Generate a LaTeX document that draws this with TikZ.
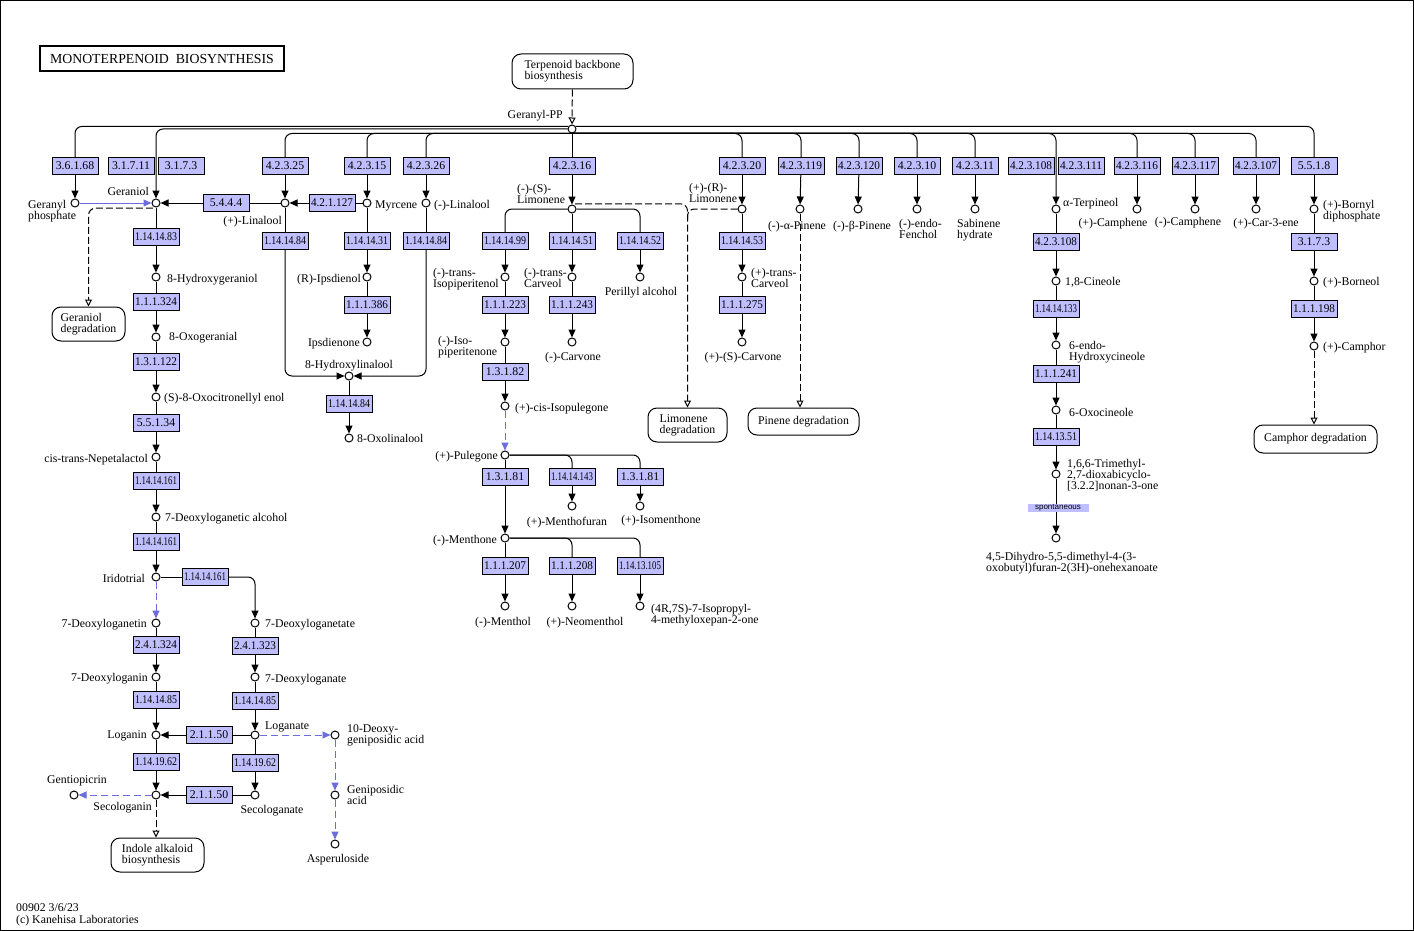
\documentclass[tikz,border=0pt]{standalone}
\usepackage{graphicx}
\usepackage{fontspec}
\setmainfont{Liberation Serif}
\newfontfamily\spfont{Liberation Sans}
\usetikzlibrary{arrows.meta,positioning,calc}
\definecolor{ecfill}{RGB}{191,191,255}
\definecolor{kblue}{RGB}{108,108,218}
\newsavebox\ecbox
% squeeze long EC numbers into the box
\newcommand\ecfit[1]{\sbox\ecbox{#1}\ifdim\wd\ecbox>42pt\resizebox{42pt}{\height}{#1}\else#1\fi}

\begin{document}
\begin{tikzpicture}[x=1pt,y=-1pt]
\tikzset{
  cpd/.style={circle,draw,fill=white,line width=1pt,minimum size=8pt,inner sep=0pt},
  ec/.style={draw,fill=ecfill,line width=0.8pt,minimum width=46pt,minimum height=17pt,inner sep=0pt,font=\fontsize{11.8}{12}\selectfont},
  lbl/.style={inner sep=0pt,font=\fontsize{11.8}{11}\selectfont,text height=8pt,text depth=2pt},
  lbltwo/.style={inner sep=0pt,font=\fontsize{11.8}{11}\selectfont,align=left},
  mapbox/.style={draw,rounded corners=9pt,line width=1pt,inner sep=0pt,align=left,font=\fontsize{11.8}{11}\selectfont},
  rxn/.style={line width=1pt},
  arr/.style={rxn,-{Triangle[width=7pt,length=8pt]}},
  rc/.style={rounded corners=7pt},
  link/.style={line width=1pt,dash pattern=on 7pt off 3pt,-{Triangle[open,width=7pt,length=7pt]}},
  blink/.style={line width=1pt,kblue,dash pattern=on 7pt off 4pt,-{Triangle[width=7pt,length=8pt]}}
}
\useasboundingbox (0,0) rectangle (1414,931);
\draw[line width=1pt] (0.5,0.5) rectangle (1413,930.5);

% title, map links
\node[draw,line width=2pt,minimum width=244pt,minimum height=25pt,inner sep=0pt,font=\fontsize{13.8}{14}\selectfont] (title) at (162,58.5) {MONOTERPENOID\ \ BIOSYNTHESIS};
\node[mapbox,minimum width=121pt,minimum height=35pt] (tbb) at (572.5,71.5) {Terpenoid backbone\\biosynthesis};
\node[mapbox,minimum width=73pt,minimum height=34pt] (gdeg) at (88.5,324) {Geraniol\\degradation};
\node[mapbox,minimum width=79pt,minimum height=34pt] (ldeg) at (687.5,425) {Limonene\\degradation};
\node[mapbox,minimum width=111pt,minimum height=27pt] (pdeg) at (803.5,421.5) {Pinene degradation};
\node[mapbox,minimum width=123pt,minimum height=28pt] (cdeg) at (1315.5,439) {Camphor degradation};
\node[mapbox,minimum width=93pt,minimum height=34pt] (indole) at (157.5,855) {Indole alkaloid\\biosynthesis};

% compounds
\foreach \n/\x/\y in {gpp/572/129, gerp/75/203, geraniol/156/203, plin/285/203, myrc/367/203,
    mlin/426/203, slim/572/209, rlim/742/209, apin/800/209, bpin/858/209, fench/917/209,
    sabin/975/209, aterp/1056/209, pcamph/1137/209, mcamph/1195/209, car/1256/209, bornyl/1314/209,
    hgeran/156/277, oxogeran/156/337, oxocit/156/397, nepet/156/457, dlalc/156/517, irido/156/577,
    dlgetin/156/623, dlgate/255/623, dlgin/156/677, dlgnate/255/677, loganin/156/735, loganate/255/735,
    secolin/156/795, secolate/255/795, gentio/74/795, deoxgen/335/735, genip/335/795, asper/335/844,
    ipsdienol/367/277, ipsdienone/367/342, hlin/349/376, olin/349/438,
    tisopip/505/277, tcarv/572/277, peril/640/277, isopipone/505/342, carvone/572/342,
    cisiso/505/406, puleg/505/455, menthofuran/572/506, isomenth/640/506, menthone/505/538,
    menthol/505/606, neomenth/572/606, oxepan/640/606, ptcarv/742/277, scarv/742/342,
    cineole/1056/281, hcineole/1056/345, oxocineole/1056/410, trimeth/1056/474, dihydro/1056/538,
    borneol/1314/281, camphor/1314/346}
  \node[cpd] (\n) at (\x,\y) {};

% enzymes
\foreach \n/\x/\y/\lab in {e1/75/166/3.6.1.68, e2/131/166/3.1.7.11, e3/181/166/3.1.7.3,
    e4/285/166/4.2.3.25, e5/367/166/4.2.3.15, e6/426/166/4.2.3.26, e7/572/166/4.2.3.16,
    e8/742/166/4.2.3.20, e9/801/166/4.2.3.119, e10/859/166/4.2.3.120, e11/917/166/4.2.3.10,
    e12/975/166/4.2.3.11, e13/1031/166/4.2.3.108, e14/1081/166/4.2.3.111, e15/1137/166/4.2.3.116,
    e16/1195/166/4.2.3.117, e17/1256/166/4.2.3.107, e18/1314/166/5.5.1.8,
    e19/226/203/5.4.4.4, e20/332/203/4.2.1.127,
    e21/156/237/1.14.14.83, e22/156/302/1.1.1.324, e23/156/362/1.3.1.122, e24/156/423/5.5.1.34,
    e25/156/481/1.14.14.161, e26/156/542/1.14.14.161, e27/205/577/1.14.14.161,
    e28/156/645/2.4.1.324, e29/255/646/2.4.1.323, e30/156/700/1.14.14.85, e31/255/701/1.14.14.85,
    e32/209/735/2.1.1.50, e33/156/762/1.14.19.62, e34/255/763/1.14.19.62, e35/209/795/2.1.1.50,
    e36/285/241/1.14.14.84, e37/367/241/1.14.14.31, e38/426/241/1.14.14.84, e39/367/305/1.1.1.386,
    e40/349/404/1.14.14.84,
    e41/505/241/1.14.14.99, e42/572/241/1.14.14.51, e43/640/241/1.14.14.52, e44/505/305/1.1.1.223,
    e45/572/305/1.1.1.243, e46/505/372/1.3.1.82, e47/505/477/1.3.1.81, e48/572/477/1.14.14.143,
    e49/640/477/1.3.1.81, e50/505/566/1.1.1.207, e51/572/566/1.1.1.208, e52/640/566/1.14.13.105,
    e53/742/241/1.14.14.53, e54/742/305/1.1.1.275,
    e55/1056/242/4.2.3.108, e56/1056/309/1.14.14.133, e57/1056/374/1.1.1.241, e58/1056/437/1.14.13.51,
    e59/1314/242/3.1.7.3, e60/1314/309/1.1.1.198}
  \node[ec] (\n) at (\x,\y) {\ecfit{\lab}};
\node[fill=ecfill,minimum width=61pt,minimum height=8pt,inner sep=0pt,font=\spfont\fontsize{8}{8}\selectfont] (spont) at (1058,508) {spontaneous};

% compound names
\node[lbl,anchor=east] (l-gpp) at (563,116) {Geranyl-PP};
\node[lbltwo,anchor=north west] (l-gerp) at (28,200.3) {Geranyl\\phosphate};
\node[lbl,anchor=east] (l-geraniol) at (149,192) {Geraniol};
\node[lbl,anchor=east] (l-plin) at (282,221) {(+)-Linalool};
\node[lbl,anchor=west] (l-myrc) at (375,205) {Myrcene};
\node[lbl,anchor=west] (l-mlin) at (434,205) {(-)-Linalool};
\node[lbltwo,anchor=north west] (l-slim) at (517,184.3) {(-)-(S)-\\Limonene};
\node[lbltwo,anchor=north west] (l-rlim) at (689,183.3) {(+)-(R)-\\Limonene};
\node[lbl] (l-apin) at (797,226) {(-)-α-Pinene};
\node[lbl] (l-bpin) at (862,226) {(-)-β-Pinene};
\node[lbltwo,anchor=north west] (l-fench) at (899,219.3) {(-)-endo-\\Fenchol};
\node[lbltwo,anchor=north west] (l-sabin) at (957,219.3) {Sabinene\\hydrate};
\node[lbl,anchor=west] (l-aterp) at (1063,203) {α-Terpineol};
\node[lbl] (l-pcamph) at (1113,223) {(+)-Camphene};
\node[lbl] (l-mcamph) at (1188,222) {(-)-Camphene};
\node[lbl] (l-car) at (1266,223) {(+)-Car-3-ene};
\node[lbltwo,anchor=north west] (l-bornyl) at (1323,200.3) {(+)-Bornyl\\diphosphate};
\node[lbl,anchor=west] (l-hgeran) at (167,279) {8-Hydroxygeraniol};
\node[lbl,anchor=west] (l-oxogeran) at (169,337) {8-Oxogeranial};
\node[lbl,anchor=west] (l-oxocit) at (164,398) {(S)-8-Oxocitronellyl enol};
\node[lbl,anchor=east] (l-nepet) at (148,459) {cis-trans-Nepetalactol};
\node[lbl,anchor=west] (l-dlalc) at (165,518) {7-Deoxyloganetic alcohol};
\node[lbl,anchor=east] (l-irido) at (145,579) {Iridotrial};
\node[lbl,anchor=east] (l-dlgetin) at (147,624) {7-Deoxyloganetin};
\node[lbl,anchor=west] (l-dlgate) at (265,624) {7-Deoxyloganetate};
\node[lbl,anchor=east] (l-dlgin) at (148,678) {7-Deoxyloganin};
\node[lbl,anchor=west] (l-dlgnate) at (265,679) {7-Deoxyloganate};
\node[lbl,anchor=east] (l-loganin) at (147,735) {Loganin};
\node[lbl,anchor=west] (l-loganate) at (265,726) {Loganate};
\node[lbltwo,anchor=north west] (l-deoxgen) at (347,724.3) {10-Deoxy-\\geniposidic acid};
\node[lbl] (l-gentio) at (77,780) {Gentiopicrin};
\node[lbl,anchor=east] (l-secolin) at (152,807) {Secologanin};
\node[lbl] (l-secolate) at (272,810) {Secologanate};
\node[lbltwo,anchor=north west] (l-genip) at (347,785.3) {Geniposidic\\acid};
\node[lbl] (l-asper) at (338,859) {Asperuloside};
\node[lbl,anchor=east] (l-ipsdienol) at (361,279) {(R)-Ipsdienol};
\node[lbl,anchor=east] (l-ipsdienone) at (360,343) {Ipsdienone};
\node[lbl] (l-hlin) at (349,365) {8-Hydroxylinalool};
\node[lbl,anchor=west] (l-olin) at (357,439) {8-Oxolinalool};
\node[lbltwo,anchor=north west] (l-tisopip) at (433,268.3) {(-)-trans-\\Isopiperitenol};
\node[lbltwo,anchor=north west] (l-tcarv) at (524,268.3) {(-)-trans-\\Carveol};
\node[lbl] (l-peril) at (641,292) {Perillyl alcohol};
\node[lbltwo,anchor=north west] (l-isopipone) at (438,336.3) {(-)-Iso-\\piperitenone};
\node[lbl] (l-carvone) at (573,357) {(-)-Carvone};
\node[lbl,anchor=west] (l-cisiso) at (515,408) {(+)-cis-Isopulegone};
\node[lbl,anchor=east] (l-puleg) at (498,456) {(+)-Pulegone};
\node[lbl] (l-menthofuran) at (567,522) {(+)-Menthofuran};
\node[lbl] (l-isomenth) at (661,520) {(+)-Isomenthone};
\node[lbl,anchor=east] (l-menthone) at (497,540) {(-)-Menthone};
\node[lbl] (l-menthol) at (503,622) {(-)-Menthol};
\node[lbl] (l-neomenth) at (585,622) {(+)-Neomenthol};
\node[lbltwo,anchor=north west] (l-oxepan) at (651,604.3) {(4R,7S)-7-Isopropyl-\\4-methyloxepan-2-one};
\node[lbltwo,anchor=north west] (l-ptcarv) at (751,268.3) {(+)-trans-\\Carveol};
\node[lbl] (l-scarv) at (743,357) {(+)-(S)-Carvone};
\node[lbl,anchor=west] (l-cineole) at (1065,282) {1,8-Cineole};
\node[lbltwo,anchor=north west] (l-hcineole) at (1069,341.3) {6-endo-\\Hydroxycineole};
\node[lbl,anchor=west] (l-oxocineole) at (1069,413) {6-Oxocineole};
\node[lbltwo,anchor=north west] (l-trimeth) at (1067,459.3) {1,6,6-Trimethyl-\\2,7-dioxabicyclo-\\{}[3.2.2]nonan-3-one};
\node[lbltwo,anchor=north west] (l-dihydro) at (986,552.3) {4,5-Dihydro-5,5-dimethyl-4-(3-\\oxobutyl)furan-2(3H)-onehexanoate};
\node[lbl,anchor=west] (l-borneol) at (1323,282) {(+)-Borneol};
\node[lbl,anchor=west] (l-camphor) at (1323,347) {(+)-Camphor};
\node[lbltwo,anchor=north west,font=\fontsize{11.8}{12}\selectfont] (foot) at (16,903.3) {00902 3/6/23\\(c) Kanehisa Laboratories};

% trunk from Geranyl-PP
\draw[rxn,rc] (gpp.145) -| (e1);
\draw[arr,rc] (gpp.west) -| (geraniol);
\foreach \e in {e4,e5,e6,e8,e9,e10,e11,e12,e15,e16,e17}
  \draw[rxn,rc] (gpp.south) -| (\e);
\draw[arr,rc] (gpp.south) -| (aterp);
\draw[rxn,rc] (gpp.35) -| (e18);
\draw[link] (tbb) -- (gpp);

% substrate side of reactions
\foreach \a/\b in {gpp/e7, plin/e19, myrc/e20, geraniol/e21, hgeran/e22, oxogeran/e23, oxocit/e24,
    nepet/e25, dlalc/e26, irido/e27, dlgetin/e28, dlgin/e30, dlgate/e29, dlgnate/e31, loganate/e32,
    loganin/e33, loganate/e34, secolate/e35, plin/e36, mlin/e38, myrc/e37, ipsdienol/e39, hlin/e40,
    slim/e42, tisopip/e44, isopipone/e46, tcarv/e45, puleg/e47, menthone/e50, rlim/e53, ptcarv/e54,
    aterp/e55, cineole/e56, hcineole/e57, oxocineole/e58, bornyl/e59, borneol/e60}
  \draw[rxn] (\a) -- (\b);
\foreach \a/\b in {slim/e41, slim/e43, puleg/e48, puleg/e49, menthone/e51, menthone/e52}
  \draw[rxn,rc] (\a) -| (\b);

% product side
\foreach \a/\b in {e1/gerp, e4/plin, e5/myrc, e6/mlin, e7/slim, e8/rlim, e9/apin, e10/bpin, e11/fench,
    e12/sabin, e15/pcamph, e16/mcamph, e17/car, e18/bornyl, e19/geraniol, e20/plin, e21/hgeran,
    e22/oxogeran, e23/oxocit, e24/nepet, e25/dlalc, e26/irido, e28/dlgin, e30/loganin, e29/dlgnate,
    e31/loganate, e32/loganin, e33/secolin, e34/secolate, e35/secolin, e37/ipsdienol, e39/ipsdienone,
    e40/olin, e41/tisopip, e42/tcarv, e43/peril, e44/isopipone, e45/carvone, e46/cisiso, e47/menthone,
    e48/menthofuran, e49/isomenth, e50/menthol, e51/neomenth, e52/oxepan, e53/ptcarv, e54/scarv,
    e55/cineole, e56/hcineole, e57/oxocineole, e58/trimeth, e59/borneol, e60/camphor}
  \draw[arr] (\a) -- (\b);
\draw[arr,rc] (e27) -| (dlgate);
\draw[arr,rc] (e36) |- (hlin);
\draw[arr,rc] (e38) |- (hlin);
\draw[rxn] (trimeth) -- (trimeth |- spont.north);
\draw[arr] (trimeth |- spont.south) -- (dihydro);

% other maps
\draw[link,rc] ([yshift=-2pt]geraniol.south west) -| (gdeg);
\draw[link,rc] ([yshift=2pt]slim.north east) -| (ldeg);
\coordinate (ljoin) at (687.5,220);
\draw[rxn,rc,dash pattern=on 7pt off 3pt] (rlim) -| (ljoin);
\draw[link] (apin) -- (apin |- pdeg.north);
\draw[link] (camphor) -- (camphor |- cdeg.north);
\draw[link] (secolin) -- (secolin |- indole.north);

% blue links
\draw[rxn,kblue,-{Triangle[width=7pt,length=8pt]}] (gerp) -- (geraniol);
\foreach \a/\b in {irido/dlgetin, secolin/gentio, loganate/deoxgen, deoxgen/genip, genip/asper, cisiso/puleg}
  \draw[blink] (\a) -- (\b);
\end{tikzpicture}
\end{document}
